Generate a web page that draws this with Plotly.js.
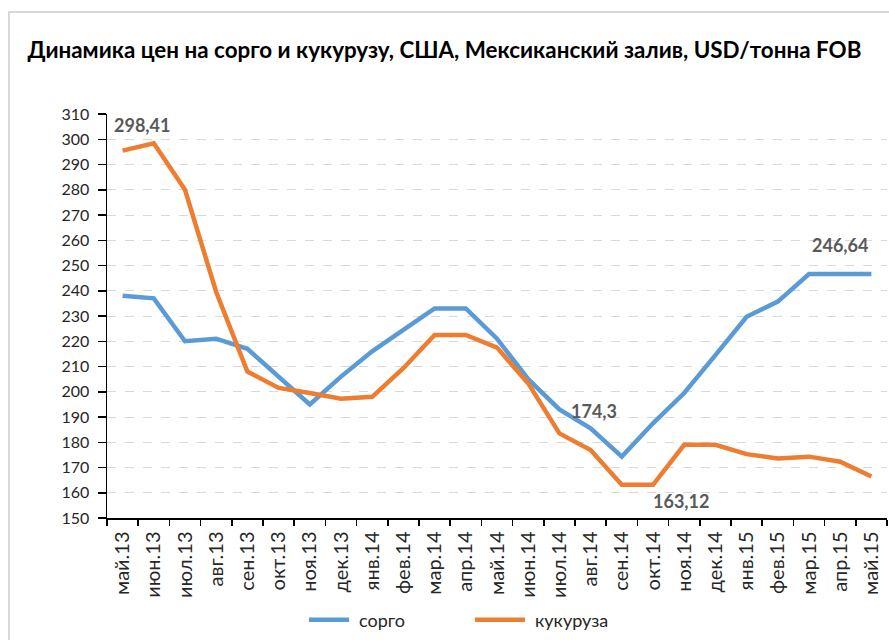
<!DOCTYPE html>
<html>
<head>
<meta charset="utf-8">
<script src="https://cdn.plot.ly/plotly-3.0.1.min.js"></script>
<style>
  html, body { margin: 0; padding: 0; background: #fff; }
  #chart { position: absolute; left: 0; top: 0; width: 889px; height: 640px; }
  #frame { position: absolute; left: 8px; top: 11px; width: 1000px; height: 700px;
           border-left: 2px solid #d9d9d9; border-top: 2px solid #d9d9d9; pointer-events: none; }
</style>
</head>
<body>
<div id="frame"></div>
<div id="chart"></div>
<script>
const months = ["май.13","июн.13","июл.13","авг.13","сен.13","окт.13","ноя.13","дек.13",
  "янв.14","фев.14","мар.14","апр.14","май.14","июн.14","июл.14","авг.14","сен.14","окт.14",
  "ноя.14","дек.14","янв.15","фев.15","мар.15","апр.15","май.15"];
const sorgo = [238, 237, 220, 221, 217, 206, 195, 206, 216, 224.5, 233, 233, 221, 205,
  193, 185.5, 174.3, 187.5, 199.5, 214.5, 229.7, 235.7, 246.64, 246.64, 246.64];
const corn = [295.5, 298.41, 280, 239.5, 208, 201.5, 199.5, 197.2, 198, 209.3, 222.5, 222.5,
  217.5, 203.3, 183.5, 176.9, 163.12, 163.12, 179, 179, 175.3, 173.6, 174.3, 172.3, 166.4];
const seriesNames = ["сорго", "кукуруза"];
const titleText = "Динамика цен на сорго и кукурузу, США, Мексиканский залив, USD/тонна FOB";
const labels = [
  {cat: "июн.13", val: 298.41, text: "298,41", dx: -12, dy: 18},
  {cat: "сен.14", val: 174.3, text: "174,3", dx: -28, dy: 46},
  {cat: "окт.14", val: 163.12, text: "163,12", dx: 28, dy: -16},
  {cat: "апр.15", val: 246.64, text: "246,64", dx: 0, dy: 29}
];

const FONT = "Lato, 'Open Sans', sans-serif";
const traces = [
  {x: months, y: sorgo, name: seriesNames[0], type: "scatter", mode: "lines",
   line: {color: "#5B9BD5", width: 4.5}},
  {x: months, y: corn, name: seriesNames[1], type: "scatter", mode: "lines",
   line: {color: "#ED7D31", width: 4.5}}
];
const layout = {
  width: 889, height: 640,
  margin: {l: 107, r: 2, t: 114, b: 122},
  paper_bgcolor: "rgba(0,0,0,0)", plot_bgcolor: "rgba(0,0,0,0)",
  font: {family: FONT, color: "#262626", size: 15},
  title: {text: "<b>" + titleText + "</b>", x: 0.5, xanchor: "center", xref: "container",
          y: 1 - 50/640, yanchor: "middle", yref: "container",
          font: {family: FONT, size: 22.4, color: "#000"}},
  xaxis: {type: "category", range: [-0.5, 24.5], tickson: "boundaries", ticks: "outside",
          ticklen: 6, tickcolor: "#000", tickwidth: 1.5, showline: true, linecolor: "#000",
          linewidth: 1.5, showgrid: false, tickangle: -90, tickfont: {size: 20, color: "#262626"},
          ticklabelstandoff: 4, fixedrange: true},
  yaxis: {range: [150, 310], dtick: 10, tick0: 150, ticks: "outside", ticklen: 8,
          tickcolor: "#000", tickwidth: 1.5, showline: true, linecolor: "#000", linewidth: 1.5,
          showgrid: true, gridcolor: "#d9d9d9", griddash: "dash", gridwidth: 1, zeroline: false,
          tickfont: {size: 16, color: "#262626"}, ticklabelstandoff: 5, fixedrange: true},
  legend: {orientation: "h", x: 309/889, xanchor: "left", xref: "container",
           y: 1 - 620/640, yanchor: "middle", yref: "container",
           font: {size: 18, color: "#262626"}, entrywidth: 121, itemwidth: 40},
  annotations: labels.map(l => ({x: l.cat, y: l.val, xref: "x", yref: "y", text: "<b>" + l.text + "</b>",
     showarrow: false, xshift: l.dx, yshift: l.dy, font: {family: FONT, size: 18, color: "#595959"}})),
  showlegend: true
};
Plotly.newPlot("chart", traces, layout, {displayModeBar: false, staticPlot: true}).then(gd => {
  // lengthen legend line samples to look like the reference
  gd.querySelectorAll(".legend .legendlines path").forEach(p => p.setAttribute("d", "M-10,0h50"));
});
</script>
</body>
</html>
